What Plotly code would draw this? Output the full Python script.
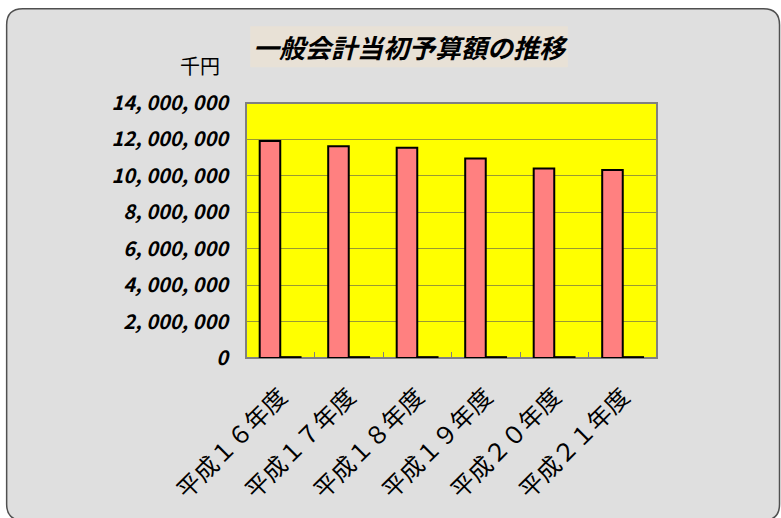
import plotly.graph_objects as go

categories = ["平成１６年度", "平成１７年度", "平成１８年度", "平成１９年度", "平成２０年度", "平成２１年度"]
budget = [11920000, 11630000, 11550000, 10950000, 10400000, 10320000]
second_series = [60000, 60000, 60000, 60000, 60000, 60000]
ytick_vals = [0, 2000000, 4000000, 6000000, 8000000, 10000000, 12000000, 14000000]
ytick_text = ["0", "2, 000, 000", "4, 000, 000", "6, 000, 000", "8, 000, 000",
              "10, 000, 000", "12, 000, 000", "14, 000, 000"]

W, H = 781, 518
L, R, T, B = 245.7, 657.3, 102.7, 357.7


def px(x):
    return (x - L) / (R - L)


def py(y):
    return (B - y) / (B - T)


fig = go.Figure()
fig.add_trace(go.Bar(x=categories, y=budget, marker=dict(color="#FF8080", line=dict(color="#000000", width=2)),
                     showlegend=False, hoverinfo="y"))
fig.add_trace(go.Bar(x=categories, y=second_series, marker=dict(color="#000000", line=dict(color="#000000", width=1.5)),
                     showlegend=False, hoverinfo="y"))

# rounded background frame
x0, y0, x1, y1, r = 6, 8.5, 780, 520, 16
path = (f"M {px(x0 + r)},{py(y0)} L {px(x1 - r)},{py(y0)} Q {px(x1)},{py(y0)} {px(x1)},{py(y0 + r)} "
        f"L {px(x1)},{py(y1 - r)} Q {px(x1)},{py(y1)} {px(x1 - r)},{py(y1)} "
        f"L {px(x0 + r)},{py(y1)} Q {px(x0)},{py(y1)} {px(x0)},{py(y1 - r)} "
        f"L {px(x0)},{py(y0 + r)} Q {px(x0)},{py(y0)} {px(x0 + r)},{py(y0)} Z")
shapes = [
    dict(type="path", path=path, xref="paper", yref="paper", fillcolor="#dfdfdf",
         line=dict(color="#505050", width=1.5), layer="below"),
    dict(type="rect", xref="paper", yref="paper", x0=0, x1=1, y0=0, y1=1, fillcolor="#FFFF00",
         line=dict(color="#808080", width=2), layer="below"),
    dict(type="rect", xref="paper", yref="paper", x0=px(250), x1=px(568), y0=py(67), y1=py(26),
         fillcolor="#e8e1d6", line=dict(width=0), layer="below"),
]

annotations = [
    dict(text="<b><i>一般会計当初予算額の推移</i></b>", x=px(410), y=py(46), xref="paper", yref="paper",
         showarrow=False, font=dict(family="Noto Sans CJK JP", size=26, color="#000000"),
         xanchor="center", yanchor="middle"),
    dict(text="千円", x=px(222), y=py(65), xref="paper", yref="paper", showarrow=False,
         font=dict(family="Noto Sans CJK JP", size=20, color="#000000"), xanchor="right", yanchor="middle"),
]

fig.update_layout(
    width=W, height=H,
    margin=dict(l=L, r=W - R, t=T, b=H - B, pad=0),
    paper_bgcolor="#ffffff",
    plot_bgcolor="rgba(0,0,0,0)",
    barmode="group", bargap=0.40, bargroupgap=0,
    shapes=shapes, annotations=annotations,
    xaxis=dict(type="category", tickangle=-45, tickson="boundaries", ticks="inside", ticklen=6,
               tickcolor="#808080", showgrid=False, showline=False,
               tickfont=dict(family="Noto Sans CJK JP", size=24, color="#000000"), ticklabelstandoff=19),
    yaxis=dict(range=[0, 14000000], tickvals=ytick_vals, ticktext=ytick_text, showgrid=True,
               gridcolor="#999933", gridwidth=1, zeroline=False, showline=False, ticks="",
               tickfont=dict(family="Noto Sans CJK JP", size=20, color="#000000", style="italic", weight="bold"),
               ticklabelstandoff=17),
)

fig.write_html("out.html", config={"displayModeBar": False},
               post_script="document.body.style.margin='0px';document.body.style.overflow='hidden';")
